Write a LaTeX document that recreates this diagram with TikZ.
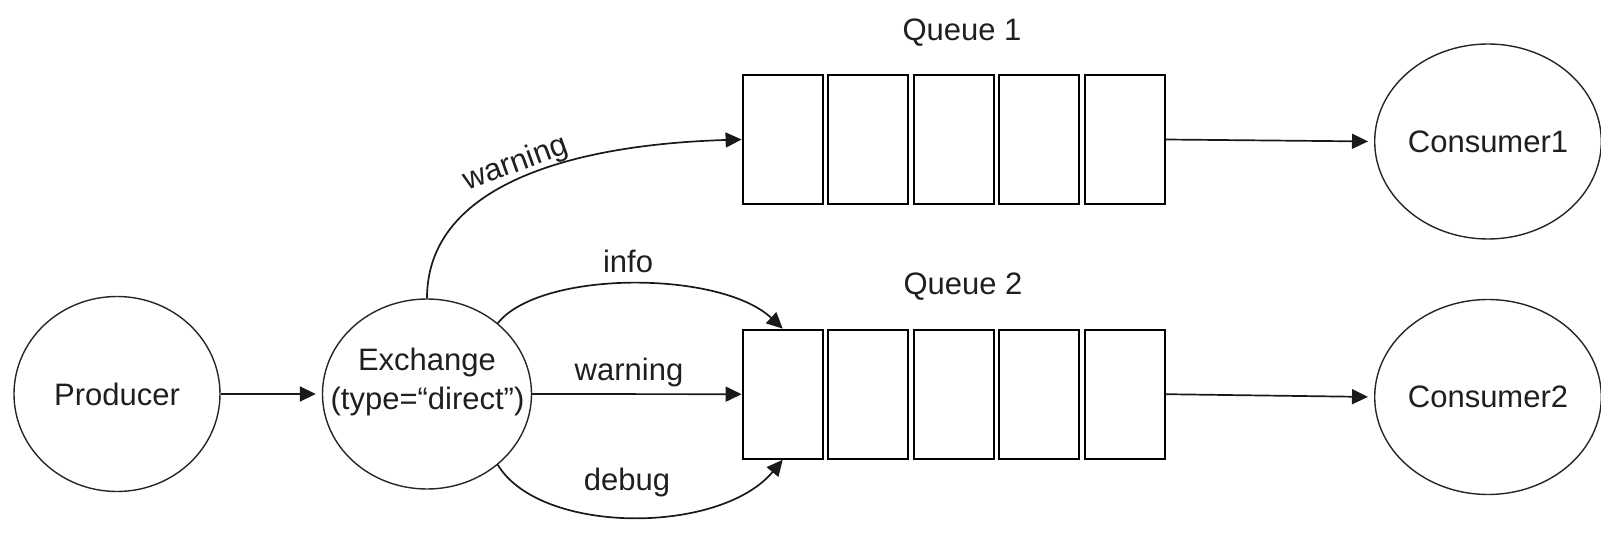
\documentclass[tikz,border=0pt]{standalone}
\usepackage{fontspec}
\setmainfont{Liberation Sans}
\usetikzlibrary{arrows.meta,shapes.geometric}
\begin{document}
\begin{tikzpicture}[x=0.5pt,y=-0.5pt,
  every node/.style={font=\fontsize{15.5}{18}\selectfont, text=black!88},
  circ/.style={ellipse, draw=black!85, line width=0.7pt, minimum width=103pt, minimum height=97.5pt, inner sep=0pt},
  qbox/.style={rectangle, draw=black, line width=1.1pt, minimum width=40pt, minimum height=64.5pt, inner sep=0pt},
  arr/.style={-{Triangle[length=8pt,width=7.5pt]}, line width=0.85pt, draw=black!90},
  gap/.style={shorten >=3pt}
]
\useasboundingbox (0,0) rectangle (1601,534);
% circles
\node[circ] (prod) at (117,394) {Producer};
\node[circ, minimum width=104.5pt, minimum height=95pt] (ex) at (427,394) {};
\node[anchor=base] (ext1) at (427,370.7) {Exchange};
\node[anchor=base] (ext2) at (427.5,409.3) {(type=“direct”)};
\node[circ] (c1) at (1488,141.5) {Consumer1};
\node[circ] (c2) at (1488,397) {Consumer2};
% queues
\foreach \n/\x in {a/782.7,b/868.2,c/953.7,d/1039.2,e/1124.7}{
  \node[qbox] (q1\n) at (\x,139.5) {};
  \node[qbox] (q2\n) at (\x,394.2) {};
}
\node[anchor=base] (lq1) at (962,40.7) {Queue 1};
\node[anchor=base] (lq2) at (963,295) {Queue 2};
% connectors
\draw[arr,gap] (prod.east) -- (ex.west);
\draw[arr] (ex.north) .. controls (427,190) and (560,145) .. (q1a.west);
\node[rotate=20] (lw1) at (516,164) {warning};
\draw[arr] (ex.45) .. controls (540,270) and (720,270) .. (q2a.north);
\node[anchor=base] (linfo) at (628,272.7) {info};
\draw[arr] (ex.east) -- (q2a.west);
\node[anchor=base] (lw2) at (629,380) {warning};
\draw[arr] (ex.-45) .. controls (540,535) and (720,535) .. (q2a.south);
\node[anchor=base] (ldbg) at (627,490) {debug};
\draw[arr,gap] (q1e.east) -- (c1.west);
\draw[arr,gap] (q2e.east) -- (c2.west);
\end{tikzpicture}
\end{document}
